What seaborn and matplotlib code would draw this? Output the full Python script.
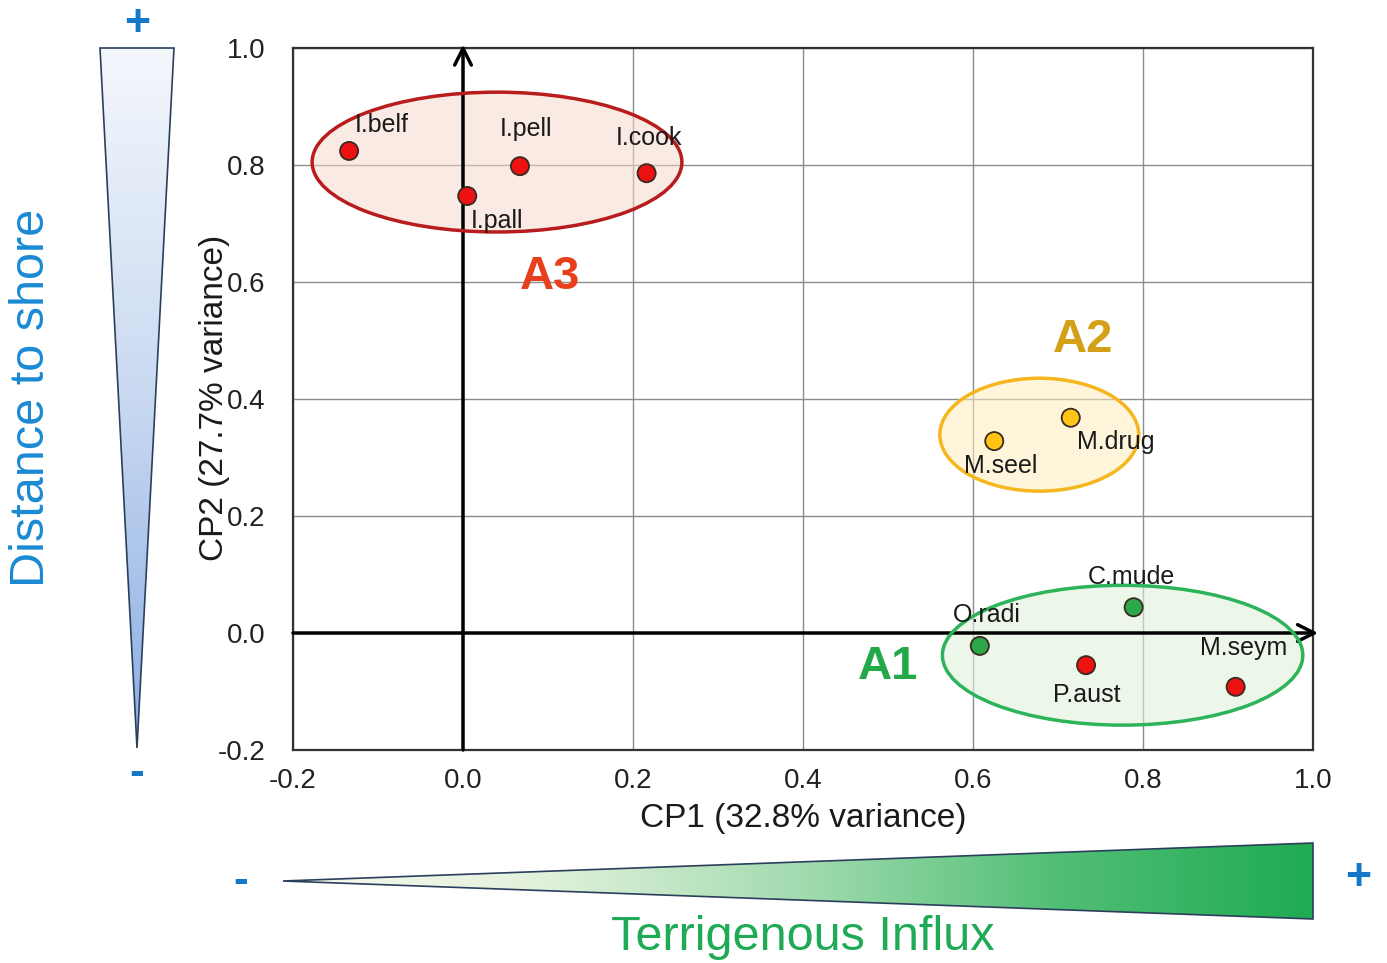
import numpy as np
import pandas as pd
import matplotlib
matplotlib.use("Agg")
import matplotlib.pyplot as plt
import seaborn as sns
from matplotlib.patches import Ellipse, Polygon
from matplotlib.colors import LinearSegmentedColormap

# species scores on the first two principal components
species = ["I.belf", "I.pell", "I.cook", "I.pall", "M.seel", "M.drug",
           "C.mude", "O.radi", "P.aust", "M.seym"]
cp1 = [-0.134, 0.067, 0.216, 0.005, 0.625, 0.715, 0.789, 0.608, 0.733, 0.909]
cp2 = [0.824, 0.798, 0.786, 0.747, 0.328, 0.368, 0.044, -0.022, -0.055, -0.092]
point_col = ["red", "red", "red", "red", "yellow", "yellow",
             "green", "green", "red", "red"]

# groups (ellipses) : centre, width, height
groups = ["A3", "A2", "A1"]
grp_cx = [0.040, 0.678, 0.776]
grp_cy = [0.805, 0.339, -0.038]
grp_w = [0.435, 0.234, 0.424]
grp_h = [0.239, 0.193, 0.239]
grp_lab_x = [0.102, 0.729, 0.500]
grp_lab_y = [0.609, 0.501, -0.058]

ticks = [-0.2, 0.0, 0.2, 0.4, 0.6, 0.8, 1.0]

df = pd.DataFrame({"species": species, "CP1": cp1, "CP2": cp2, "col": point_col})

sns.set_style("white")
plt.rcParams["font.family"] = ["Liberation Sans", "DejaVu Sans"]

W, H = 1387, 963
fig = plt.figure(figsize=(W / 100, H / 100), dpi=100)

# ---------- background decorations (gradient wedges) ----------
bg = fig.add_axes([0, 0, 1, 1])
bg.set_xlim(0, W)
bg.set_ylim(H, 0)
bg.axis("off")

def wedge(verts, cmap, horizontal):
    poly = Polygon(verts, closed=True, facecolor="none", edgecolor="#2b3f5c", lw=1.2, zorder=3)
    bg.add_patch(poly)
    xs = [v[0] for v in verts]
    ys = [v[1] for v in verts]
    grad = np.linspace(0, 1, 256)
    img = grad[None, :] if horizontal else grad[:, None]
    im = bg.imshow(img, cmap=cmap, aspect="auto",
                   extent=[min(xs), max(xs), max(ys), min(ys)], zorder=2)
    im.set_clip_path(poly)

blue_cmap = LinearSegmentedColormap.from_list("b", ["#f4f7fc", "#c9d9f1", "#8aaee3"])
green_cmap = LinearSegmentedColormap.from_list(
    "g", ["#f8faee", "#e2f1dc", "#a3dcb0", "#52bf77", "#1fab52"])
wedge([(100, 48), (174, 48), (137, 748)], blue_cmap, horizontal=False)
wedge([(283, 881), (1313, 843), (1313, 919)], green_cmap, horizontal=True)

sign_col = "#1478c8"
bg.text(137, 25, "+", color=sign_col, fontsize=32, fontweight="bold", ha="center", va="center")
bg.text(137, 773, "-", color=sign_col, fontsize=32, fontweight="bold", ha="center", va="center")
bg.text(1358, 879, "+", color=sign_col, fontsize=32, fontweight="bold", ha="center", va="center")
bg.text(241, 882, "-", color=sign_col, fontsize=32, fontweight="bold", ha="center", va="center")
bg.text(32, 398, "Distance to shore", color="#1a8ad4", fontsize=35,
        rotation=90, ha="center", va="center")
bg.text(803, 937, "Terrigenous Influx", color="#1faa55", fontsize=35,
        ha="center", va="center")

# ---------- main PCA plot ----------
ax = fig.add_axes([293 / W, 1 - 750 / H, 1020 / W, 702 / H])
ax.set_facecolor("white")

edge_cols = ["#b81c1c", "#f5b61e", "#2db45a"]
fill_cols = [(0.96, 0.85, 0.80, 0.55), (1.0, 0.93, 0.75, 0.55), (0.88, 0.94, 0.86, 0.6)]
text_cols = ["#e8401c", "#d4a018", "#22aa4a"]
for i, g in enumerate(groups):
    ax.add_patch(Ellipse((grp_cx[i], grp_cy[i]), grp_w[i], grp_h[i],
                         facecolor=fill_cols[i], edgecolor="none", zorder=1))
    ax.add_patch(Ellipse((grp_cx[i], grp_cy[i]), grp_w[i], grp_h[i],
                         facecolor="none", edgecolor=edge_cols[i], lw=2.5, zorder=4))
    ax.text(grp_lab_x[i], grp_lab_y[i], g, color=text_cols[i], fontsize=34,
            fontweight="bold", ha="center", va="center", zorder=6)

# axes arrows through origin
ax.annotate("", xy=(1.006, 0), xytext=(-0.2, 0), annotation_clip=False,
            arrowprops=dict(arrowstyle="->", lw=2.5, color="black",
                            mutation_scale=30, shrinkA=0, shrinkB=0), zorder=3)
ax.annotate("", xy=(0, 1.006), xytext=(0, -0.2), annotation_clip=False,
            arrowprops=dict(arrowstyle="->", lw=2.5, color="black",
                            mutation_scale=30, shrinkA=0, shrinkB=0), zorder=3)

sns.scatterplot(data=df, x="CP1", y="CP2", hue="col",
                palette={"red": "#ee1111", "yellow": "#ffc414", "green": "#2aa84a"},
                s=170, edgecolor="#3a2a20", linewidth=1.3, legend=False, ax=ax, zorder=5)

# label offsets in pixels (text placement only)
offs = [(33, 26), (6, 37), (2, 35), (30, -25), (6, -25), (45, -24),
        (-2, 30), (7, 31), (1, -30), (8, 39)]
for i, name in enumerate(species):
    ax.annotate(name, (cp1[i], cp2[i]), xytext=offs[i], textcoords="offset pixels",
                fontsize=18, color="#1a1a1a", ha="center", va="center", zorder=6)

ax.set_xlim(-0.2, 1.0)
ax.set_ylim(-0.2, 1.0)
ax.set_xticks(ticks)
ax.set_yticks(ticks)
ax.set_xticklabels([f"{t:.1f}" for t in ticks])
ax.set_yticklabels([f"{t:.1f}" for t in ticks])
ax.tick_params(axis="both", length=0, labelsize=20, colors="#222222")
ax.tick_params(axis="y", pad=20)
ax.tick_params(axis="x", pad=13)
ax.grid(True, color="#8c8c8c", lw=1.0)
ax.set_axisbelow(True)
for sp in ax.spines.values():
    sp.set_color("#333333")
    sp.set_linewidth(1.6)
ax.set_xlabel("")
ax.set_ylabel("")

fig.text(803 / W, 1 - 818 / H, "CP1 (32.8% variance)", fontsize=24,
         color="#1a1a1a", ha="center", va="center")
fig.text(215 / W, 1 - 398 / H, "CP2 (27.7% variance)", fontsize=24,
         color="#1a1a1a", ha="center", va="center", rotation=90)

fig.savefig("out.png", dpi=100)
